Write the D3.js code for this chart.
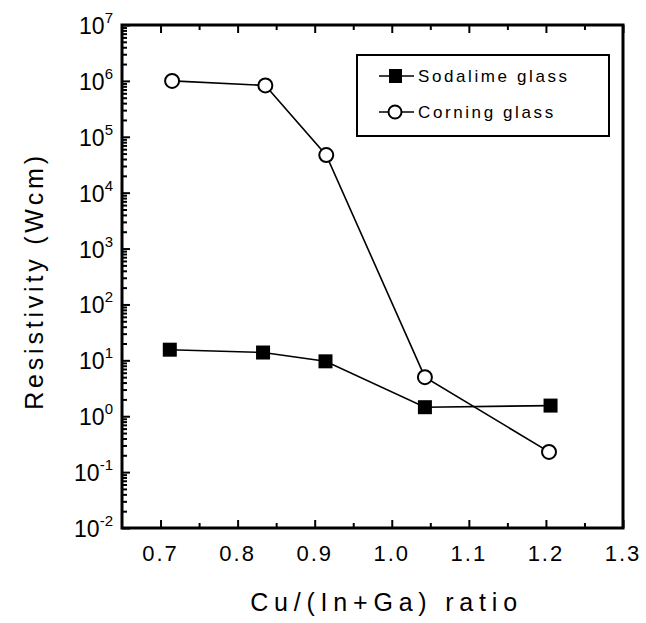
<!DOCTYPE html>
<html>
<head>
<meta charset="utf-8">
<script src="https://cdn.jsdelivr.net/npm/d3@7"></script>
<style>
  body { margin: 0; background: #fff; }
  svg { font-family: "Liberation Sans", Arial, sans-serif; }
</style>
</head>
<body>
<div class="container"></div>
<script>
(function() {
  // Data
  var sodaRatio = [0.712, 0.833, 0.914, 1.043, 1.206];
  var sodaRes = [15.5, 13.8, 9.6, 1.45, 1.55];
  var corningRatio = [0.715, 0.836, 0.915, 1.043, 1.204];
  var corningRes = [1.0e6, 8.3e5, 4.7e4, 5.0, 0.23];
  var xTicks = [0.7, 0.8, 0.9, 1.0, 1.1, 1.2, 1.3];
  var yExps = [-2, -1, 0, 1, 2, 3, 4, 5, 6, 7];
  var legendNames = ["Sodalime glass", "Corning glass"];

  var opts = {
    width: 646,
    height: 623,
    left: 122,
    right: 623,
    top: 25,
    bottom: 528
  };

  var svg = d3.select('div.container').append('svg')
    .attr('width', opts.width).attr('height', opts.height);

  var x = d3.scaleLinear().domain([0.65, 1.3]).range([opts.left, opts.right]);
  var y = d3.scaleLog().domain([1e-2, 1e7]).range([opts.bottom, opts.top]);

  var yMajor = yExps.map(function(e) { return Math.pow(10, e); });
  var yMinor = [];
  yExps.slice(0, -1).forEach(function(e) {
    for (var k = 2; k < 10; k++) yMinor.push(k * Math.pow(10, e));
  });
  var xMinor = [0.75, 0.85, 0.95, 1.05, 1.15, 1.25];

  // axes with inward ticks
  function addAxis(gen, tx, ty, size) {
    var g = svg.append('g').attr('transform', 'translate(' + tx + ',' + ty + ')')
      .call(gen.tickSize(size).tickFormat(''));
    g.select('.domain').remove();
    g.selectAll('line').attr('stroke', '#000').attr('stroke-width', 2);
    return g;
  }
  addAxis(d3.axisLeft(y).tickValues(yMajor), opts.left, 0, -8);
  addAxis(d3.axisLeft(y).tickValues(yMinor), opts.left, 0, -5);
  addAxis(d3.axisBottom(x).tickValues(xTicks), 0, opts.bottom, -8);
  addAxis(d3.axisBottom(x).tickValues(xMinor), 0, opts.bottom, -5);
  addAxis(d3.axisTop(x).tickValues(xTicks), 0, opts.top, -8);
  addAxis(d3.axisTop(x).tickValues(xMinor), 0, opts.top, -5);

  // frame
  svg.append('rect')
    .attr('x', opts.left).attr('y', opts.top)
    .attr('width', opts.right - opts.left).attr('height', opts.bottom - opts.top)
    .attr('fill', 'none').attr('stroke', '#000').attr('stroke-width', 3);

  // x tick labels
  svg.selectAll('text.xt').data(xTicks).enter().append('text')
    .attr('class', 'xt')
    .attr('x', function(d) { return x(d); })
    .attr('y', 561)
    .attr('text-anchor', 'middle')
    .attr('font-size', 22)
    .attr('letter-spacing', 2)
    .text(function(d) { return d.toFixed(1); });

  // y tick labels 10^n
  var yt = svg.selectAll('text.yt').data(yExps).enter().append('text')
    .attr('class', 'yt')
    .attr('x', 113)
    .attr('y', function(d) { return y(Math.pow(10, d)) + 9; })
    .attr('text-anchor', 'end')
    .attr('font-size', 23);
  yt.append('tspan').text('10');
  yt.append('tspan').attr('dy', -11).attr('font-size', 15)
    .text(function(d) { return d; });

  // axis titles
  svg.append('text')
    .attr('x', (opts.left + opts.right) / 2 + 14).attr('y', 611)
    .attr('text-anchor', 'middle')
    .attr('font-size', 25).attr('letter-spacing', 5.8)
    .text('Cu/(In+Ga) ratio');
  svg.append('text')
    .attr('transform', 'translate(43,' + 281 + ') rotate(-90)')
    .attr('text-anchor', 'middle')
    .attr('font-size', 25).attr('letter-spacing', 3.8)
    .text('Resistivity (Wcm)');

  var line = d3.line()
    .x(function(d) { return x(d[0]); })
    .y(function(d) { return y(d[1]); });

  var soda = d3.zip(sodaRatio, sodaRes);
  var corning = d3.zip(corningRatio, corningRes);

  svg.append('path').datum(soda).attr('d', line)
    .attr('fill', 'none').attr('stroke', '#000').attr('stroke-width', 1.6);
  svg.append('path').datum(corning).attr('d', line)
    .attr('fill', 'none').attr('stroke', '#000').attr('stroke-width', 1.6);

  svg.selectAll('rect.soda').data(soda).enter().append('rect')
    .attr('class', 'soda')
    .attr('x', function(d) { return x(d[0]) - 7; })
    .attr('y', function(d) { return y(d[1]) - 7; })
    .attr('width', 14).attr('height', 14)
    .attr('fill', '#000');

  svg.selectAll('circle.corning').data(corning).enter().append('circle')
    .attr('class', 'corning')
    .attr('cx', function(d) { return x(d[0]); })
    .attr('cy', function(d) { return y(d[1]); })
    .attr('r', 7)
    .attr('fill', '#fff').attr('stroke', '#000').attr('stroke-width', 2);

  // legend
  var lg = svg.append('g');
  lg.append('rect')
    .attr('x', 357).attr('y', 55).attr('width', 252).attr('height', 81)
    .attr('fill', '#fff').attr('stroke', '#000').attr('stroke-width', 2);
  legendNames.forEach(function(name, i) {
    var cy = 76 + i * 36;
    lg.append('line').attr('x1', 379).attr('x2', 414).attr('y1', cy).attr('y2', cy)
      .attr('stroke', '#000').attr('stroke-width', 1.6);
    if (i === 0) {
      lg.append('rect').attr('x', 389).attr('y', cy - 7).attr('width', 13).attr('height', 14).attr('fill', '#000');
    } else {
      lg.append('circle').attr('cx', 395).attr('cy', cy).attr('r', 6.5)
        .attr('fill', '#fff').attr('stroke', '#000').attr('stroke-width', 2);
    }
    lg.append('text').attr('x', 418).attr('y', cy + 6)
      .attr('font-size', 17).attr('letter-spacing', 2.6)
      .text(name);
  });
}).call(this);
</script>
</body>
</html>
